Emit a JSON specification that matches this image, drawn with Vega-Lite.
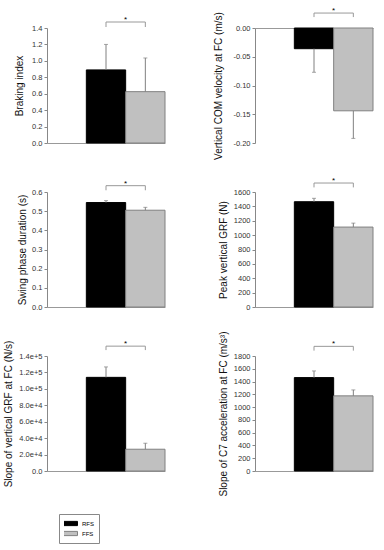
{
"$schema": "https://vega.github.io/schema/vega-lite/v6.json",
"padding": {"left": 3, "top": 7, "right": 5, "bottom": 5},
"datasets": {
 "bars": [
  {"panel": "p1", "group": "RFS", "mean": 0.89, "err": 1.2},
  {"panel": "p1", "group": "FFS", "mean": 0.625, "err": 1.035},
  {"panel": "p2", "group": "RFS", "mean": -0.036, "err": -0.077},
  {"panel": "p2", "group": "FFS", "mean": -0.144, "err": -0.192},
  {"panel": "p3", "group": "RFS", "mean": 0.545, "err": 0.555},
  {"panel": "p3", "group": "FFS", "mean": 0.505, "err": 0.52},
  {"panel": "p4", "group": "RFS", "mean": 1465, "err": 1512},
  {"panel": "p4", "group": "FFS", "mean": 1112, "err": 1167},
  {"panel": "p5", "group": "RFS", "mean": 114000, "err": 126700},
  {"panel": "p5", "group": "FFS", "mean": 26500, "err": 33800},
  {"panel": "p6", "group": "RFS", "mean": 1462, "err": 1566},
  {"panel": "p6", "group": "FFS", "mean": 1176, "err": 1269}
 ],
 "sig": [
  {"panel": "p1", "level": 1.473, "tip": 1.412},
  {"panel": "p2", "level": 0.026, "tip": 0.019},
  {"panel": "p3", "level": 0.633, "tip": 0.609},
  {"panel": "p4", "level": 1725, "tip": 1664},
  {"panel": "p5", "level": 152000, "tip": 147200},
  {"panel": "p6", "level": 1951, "tip": 1884}
 ]
},
"columns": 2,
"spacing": {"row": 49, "column": 90},
"bounds": "flush",
"concat": [
 {"width": 118, "height": 115,
  "layer": [
   {"data": {"name": "bars"}, "transform": [{"filter": "datum.panel == 'p1'"}],
    "layer": [
     {"mark": {"type": "bar", "strokeWidth": 1},
      "encoding": {
       "x": {"field": "group", "type": "nominal", "scale": {"type": "band", "domain": ["none", "RFS", "FFS"], "paddingInner": 0, "paddingOuter": 0}, "axis": {"title": null, "labels": false, "ticks": false, "domainColor": "#999", "orient": "bottom"}},
       "y": {"field": "mean", "type": "quantitative", "scale": {"domain": [0, 1.4]}, "axis": {"title": "Braking index", "values": [0, 0.2, 0.4, 0.6, 0.8, 1.0, 1.2, 1.4], "format": ".1f", "titlePadding": 7}},
       "fill": {"field": "group", "type": "nominal", "scale": {"domain": ["RFS", "FFS"], "range": ["#000000", "#c0c0c0"]},
        "legend": {"title": null, "orient": "none", "legendX": 12, "legendY": 486, "symbolType": "M-2,-0.5H2V0.5H-2Z", "symbolSize": 72, "symbolStrokeColor": "#808080", "symbolStrokeWidth": 1, "labelFontSize": 6, "labelFont": "Liberation Sans", "labelColor": "#000", "labelOffset": 8, "strokeColor": "#888", "padding": 5, "rowPadding": 1, "clipHeight": 9}},
       "stroke": {"field": "group", "type": "nominal", "scale": {"domain": ["RFS", "FFS"], "range": ["#000000", "#808080"]}, "legend": null}
      }},
     {"mark": {"type": "rule", "color": "#808080"},
      "encoding": {
       "x": {"field": "group", "type": "nominal", "scale": {"type": "band", "domain": ["none", "RFS", "FFS"], "paddingInner": 0, "paddingOuter": 0}, "axis": {"title": null, "labels": false, "ticks": false, "domainColor": "#999", "orient": "bottom"}},
       "y": {"field": "mean", "type": "quantitative", "scale": {"domain": [0, 1.4]}, "axis": {"title": "Braking index", "values": [0, 0.2, 0.4, 0.6, 0.8, 1.0, 1.2, 1.4], "format": ".1f", "titlePadding": 7}},
       "y2": {"field": "err"}}},
     {"mark": {"type": "tick", "color": "#808080", "thickness": 1, "size": 4},
      "encoding": {
       "x": {"field": "group", "type": "nominal", "scale": {"type": "band", "domain": ["none", "RFS", "FFS"], "paddingInner": 0, "paddingOuter": 0}, "axis": {"title": null, "labels": false, "ticks": false, "domainColor": "#999", "orient": "bottom"}},
       "y": {"field": "err", "type": "quantitative", "scale": {"domain": [0, 1.4]}, "axis": {"title": "Braking index", "values": [0, 0.2, 0.4, 0.6, 0.8, 1.0, 1.2, 1.4], "format": ".1f", "titlePadding": 7}}}}
    ]},
   {"data": {"name": "sig"}, "transform": [{"filter": "datum.panel == 'p1'"}],
    "layer": [
     {"mark": {"type": "rule", "color": "#999"},
      "encoding": {
       "x": {"datum": "RFS", "type": "nominal", "scale": {"type": "band", "domain": ["none", "RFS", "FFS"], "paddingInner": 0, "paddingOuter": 0}, "axis": {"title": null, "labels": false, "ticks": false, "domainColor": "#999", "orient": "bottom"}},
       "x2": {"datum": "FFS"},
       "y": {"field": "level", "type": "quantitative", "scale": {"domain": [0, 1.4]}, "axis": {"title": "Braking index", "values": [0, 0.2, 0.4, 0.6, 0.8, 1.0, 1.2, 1.4], "format": ".1f", "titlePadding": 7}}}},
     {"mark": {"type": "rule", "color": "#999"},
      "encoding": {
       "x": {"datum": "RFS", "type": "nominal", "scale": {"type": "band", "domain": ["none", "RFS", "FFS"], "paddingInner": 0, "paddingOuter": 0}, "axis": {"title": null, "labels": false, "ticks": false, "domainColor": "#999", "orient": "bottom"}},
       "y": {"field": "level", "type": "quantitative", "scale": {"domain": [0, 1.4]}, "axis": {"title": "Braking index", "values": [0, 0.2, 0.4, 0.6, 0.8, 1.0, 1.2, 1.4], "format": ".1f", "titlePadding": 7}},
       "y2": {"field": "tip"}}},
     {"mark": {"type": "rule", "color": "#999"},
      "encoding": {
       "x": {"datum": "FFS", "type": "nominal", "scale": {"type": "band", "domain": ["none", "RFS", "FFS"], "paddingInner": 0, "paddingOuter": 0}, "axis": {"title": null, "labels": false, "ticks": false, "domainColor": "#999", "orient": "bottom"}},
       "y": {"field": "level", "type": "quantitative", "scale": {"domain": [0, 1.4]}, "axis": {"title": "Braking index", "values": [0, 0.2, 0.4, 0.6, 0.8, 1.0, 1.2, 1.4], "format": ".1f", "titlePadding": 7}},
       "y2": {"field": "tip"}}},
     {"mark": {"type": "text", "text": "*", "fontSize": 8, "baseline": "alphabetic", "font": "Liberation Sans"},
      "encoding": {
       "x": {"datum": "FFS", "type": "nominal", "bandPosition": 0, "scale": {"type": "band", "domain": ["none", "RFS", "FFS"], "paddingInner": 0, "paddingOuter": 0}, "axis": {"title": null, "labels": false, "ticks": false, "domainColor": "#999", "orient": "bottom"}},
       "y": {"field": "level", "type": "quantitative", "scale": {"domain": [0, 1.4]}, "axis": {"title": "Braking index", "values": [0, 0.2, 0.4, 0.6, 0.8, 1.0, 1.2, 1.4], "format": ".1f", "titlePadding": 7}}}}
    ]}
  ]},
 {"width": 118, "height": 115,
  "layer": [
   {"data": {"name": "bars"}, "transform": [{"filter": "datum.panel == 'p2'"}],
    "layer": [
     {"mark": {"type": "bar", "strokeWidth": 1},
      "encoding": {
       "x": {"field": "group", "type": "nominal", "scale": {"type": "band", "domain": ["none", "RFS", "FFS"], "paddingInner": 0, "paddingOuter": 0}, "axis": {"title": null, "labels": false, "ticks": false, "domainColor": "#999", "orient": "top"}},
       "y": {"field": "mean", "type": "quantitative", "scale": {"domain": [-0.2, 0]}, "axis": {"title": "Vertical COM velocity at FC (m/s)", "values": [-0.2, -0.15, -0.1, -0.05, 0], "labelExpr": "datum.value < 0 ? '-' + format(-datum.value, '.2f') : format(datum.value, '.2f')", "titlePadding": 9}},
       "fill": {"field": "group", "type": "nominal", "scale": {"domain": ["RFS", "FFS"], "range": ["#000000", "#c0c0c0"]}},
       "stroke": {"field": "group", "type": "nominal", "scale": {"domain": ["RFS", "FFS"], "range": ["#000000", "#808080"]}, "legend": null}
      }},
     {"mark": {"type": "rule", "color": "#808080"},
      "encoding": {
       "x": {"field": "group", "type": "nominal", "scale": {"type": "band", "domain": ["none", "RFS", "FFS"], "paddingInner": 0, "paddingOuter": 0}, "axis": {"title": null, "labels": false, "ticks": false, "domainColor": "#999", "orient": "top"}},
       "y": {"field": "mean", "type": "quantitative", "scale": {"domain": [-0.2, 0]}, "axis": {"title": "Vertical COM velocity at FC (m/s)", "values": [-0.2, -0.15, -0.1, -0.05, 0], "labelExpr": "datum.value < 0 ? '-' + format(-datum.value, '.2f') : format(datum.value, '.2f')", "titlePadding": 9}},
       "y2": {"field": "err"}}},
     {"mark": {"type": "tick", "color": "#808080", "thickness": 1, "size": 4},
      "encoding": {
       "x": {"field": "group", "type": "nominal", "scale": {"type": "band", "domain": ["none", "RFS", "FFS"], "paddingInner": 0, "paddingOuter": 0}, "axis": {"title": null, "labels": false, "ticks": false, "domainColor": "#999", "orient": "top"}},
       "y": {"field": "err", "type": "quantitative", "scale": {"domain": [-0.2, 0]}, "axis": {"title": "Vertical COM velocity at FC (m/s)", "values": [-0.2, -0.15, -0.1, -0.05, 0], "labelExpr": "datum.value < 0 ? '-' + format(-datum.value, '.2f') : format(datum.value, '.2f')", "titlePadding": 9}}}}
    ]},
   {"data": {"name": "sig"}, "transform": [{"filter": "datum.panel == 'p2'"}],
    "layer": [
     {"mark": {"type": "rule", "color": "#999"},
      "encoding": {
       "x": {"datum": "RFS", "type": "nominal", "scale": {"type": "band", "domain": ["none", "RFS", "FFS"], "paddingInner": 0, "paddingOuter": 0}, "axis": {"title": null, "labels": false, "ticks": false, "domainColor": "#999", "orient": "top"}},
       "x2": {"datum": "FFS"},
       "y": {"field": "level", "type": "quantitative", "scale": {"domain": [-0.2, 0]}, "axis": {"title": "Vertical COM velocity at FC (m/s)", "values": [-0.2, -0.15, -0.1, -0.05, 0], "labelExpr": "datum.value < 0 ? '-' + format(-datum.value, '.2f') : format(datum.value, '.2f')", "titlePadding": 9}}}},
     {"mark": {"type": "rule", "color": "#999"},
      "encoding": {
       "x": {"datum": "RFS", "type": "nominal", "scale": {"type": "band", "domain": ["none", "RFS", "FFS"], "paddingInner": 0, "paddingOuter": 0}, "axis": {"title": null, "labels": false, "ticks": false, "domainColor": "#999", "orient": "top"}},
       "y": {"field": "level", "type": "quantitative", "scale": {"domain": [-0.2, 0]}, "axis": {"title": "Vertical COM velocity at FC (m/s)", "values": [-0.2, -0.15, -0.1, -0.05, 0], "labelExpr": "datum.value < 0 ? '-' + format(-datum.value, '.2f') : format(datum.value, '.2f')", "titlePadding": 9}},
       "y2": {"field": "tip"}}},
     {"mark": {"type": "rule", "color": "#999"},
      "encoding": {
       "x": {"datum": "FFS", "type": "nominal", "scale": {"type": "band", "domain": ["none", "RFS", "FFS"], "paddingInner": 0, "paddingOuter": 0}, "axis": {"title": null, "labels": false, "ticks": false, "domainColor": "#999", "orient": "top"}},
       "y": {"field": "level", "type": "quantitative", "scale": {"domain": [-0.2, 0]}, "axis": {"title": "Vertical COM velocity at FC (m/s)", "values": [-0.2, -0.15, -0.1, -0.05, 0], "labelExpr": "datum.value < 0 ? '-' + format(-datum.value, '.2f') : format(datum.value, '.2f')", "titlePadding": 9}},
       "y2": {"field": "tip"}}},
     {"mark": {"type": "text", "text": "*", "fontSize": 8, "baseline": "alphabetic", "font": "Liberation Sans"},
      "encoding": {
       "x": {"datum": "FFS", "type": "nominal", "bandPosition": 0, "scale": {"type": "band", "domain": ["none", "RFS", "FFS"], "paddingInner": 0, "paddingOuter": 0}, "axis": {"title": null, "labels": false, "ticks": false, "domainColor": "#999", "orient": "top"}},
       "y": {"field": "level", "type": "quantitative", "scale": {"domain": [-0.2, 0]}, "axis": {"title": "Vertical COM velocity at FC (m/s)", "values": [-0.2, -0.15, -0.1, -0.05, 0], "labelExpr": "datum.value < 0 ? '-' + format(-datum.value, '.2f') : format(datum.value, '.2f')", "titlePadding": 9}}}}
    ]}
  ]},
 {"width": 118, "height": 115,
  "layer": [
   {"data": {"name": "bars"}, "transform": [{"filter": "datum.panel == 'p3'"}],
    "layer": [
     {"mark": {"type": "bar", "strokeWidth": 1},
      "encoding": {
       "x": {"field": "group", "type": "nominal", "scale": {"type": "band", "domain": ["none", "RFS", "FFS"], "paddingInner": 0, "paddingOuter": 0}, "axis": {"title": null, "labels": false, "ticks": false, "domainColor": "#999", "orient": "bottom"}},
       "y": {"field": "mean", "type": "quantitative", "scale": {"domain": [0, 0.6]}, "axis": {"title": "Swing phase duration (s)", "values": [0, 0.1, 0.2, 0.3, 0.4, 0.5, 0.6], "format": ".1f", "titlePadding": 4}},
       "fill": {"field": "group", "type": "nominal", "scale": {"domain": ["RFS", "FFS"], "range": ["#000000", "#c0c0c0"]}},
       "stroke": {"field": "group", "type": "nominal", "scale": {"domain": ["RFS", "FFS"], "range": ["#000000", "#808080"]}, "legend": null}
      }},
     {"mark": {"type": "rule", "color": "#808080"},
      "encoding": {
       "x": {"field": "group", "type": "nominal", "scale": {"type": "band", "domain": ["none", "RFS", "FFS"], "paddingInner": 0, "paddingOuter": 0}, "axis": {"title": null, "labels": false, "ticks": false, "domainColor": "#999", "orient": "bottom"}},
       "y": {"field": "mean", "type": "quantitative", "scale": {"domain": [0, 0.6]}, "axis": {"title": "Swing phase duration (s)", "values": [0, 0.1, 0.2, 0.3, 0.4, 0.5, 0.6], "format": ".1f", "titlePadding": 4}},
       "y2": {"field": "err"}}},
     {"mark": {"type": "tick", "color": "#808080", "thickness": 1, "size": 4},
      "encoding": {
       "x": {"field": "group", "type": "nominal", "scale": {"type": "band", "domain": ["none", "RFS", "FFS"], "paddingInner": 0, "paddingOuter": 0}, "axis": {"title": null, "labels": false, "ticks": false, "domainColor": "#999", "orient": "bottom"}},
       "y": {"field": "err", "type": "quantitative", "scale": {"domain": [0, 0.6]}, "axis": {"title": "Swing phase duration (s)", "values": [0, 0.1, 0.2, 0.3, 0.4, 0.5, 0.6], "format": ".1f", "titlePadding": 4}}}}
    ]},
   {"data": {"name": "sig"}, "transform": [{"filter": "datum.panel == 'p3'"}],
    "layer": [
     {"mark": {"type": "rule", "color": "#999"},
      "encoding": {
       "x": {"datum": "RFS", "type": "nominal", "scale": {"type": "band", "domain": ["none", "RFS", "FFS"], "paddingInner": 0, "paddingOuter": 0}, "axis": {"title": null, "labels": false, "ticks": false, "domainColor": "#999", "orient": "bottom"}},
       "x2": {"datum": "FFS"},
       "y": {"field": "level", "type": "quantitative", "scale": {"domain": [0, 0.6]}, "axis": {"title": "Swing phase duration (s)", "values": [0, 0.1, 0.2, 0.3, 0.4, 0.5, 0.6], "format": ".1f", "titlePadding": 4}}}},
     {"mark": {"type": "rule", "color": "#999"},
      "encoding": {
       "x": {"datum": "RFS", "type": "nominal", "scale": {"type": "band", "domain": ["none", "RFS", "FFS"], "paddingInner": 0, "paddingOuter": 0}, "axis": {"title": null, "labels": false, "ticks": false, "domainColor": "#999", "orient": "bottom"}},
       "y": {"field": "level", "type": "quantitative", "scale": {"domain": [0, 0.6]}, "axis": {"title": "Swing phase duration (s)", "values": [0, 0.1, 0.2, 0.3, 0.4, 0.5, 0.6], "format": ".1f", "titlePadding": 4}},
       "y2": {"field": "tip"}}},
     {"mark": {"type": "rule", "color": "#999"},
      "encoding": {
       "x": {"datum": "FFS", "type": "nominal", "scale": {"type": "band", "domain": ["none", "RFS", "FFS"], "paddingInner": 0, "paddingOuter": 0}, "axis": {"title": null, "labels": false, "ticks": false, "domainColor": "#999", "orient": "bottom"}},
       "y": {"field": "level", "type": "quantitative", "scale": {"domain": [0, 0.6]}, "axis": {"title": "Swing phase duration (s)", "values": [0, 0.1, 0.2, 0.3, 0.4, 0.5, 0.6], "format": ".1f", "titlePadding": 4}},
       "y2": {"field": "tip"}}},
     {"mark": {"type": "text", "text": "*", "fontSize": 8, "baseline": "alphabetic", "font": "Liberation Sans"},
      "encoding": {
       "x": {"datum": "FFS", "type": "nominal", "bandPosition": 0, "scale": {"type": "band", "domain": ["none", "RFS", "FFS"], "paddingInner": 0, "paddingOuter": 0}, "axis": {"title": null, "labels": false, "ticks": false, "domainColor": "#999", "orient": "bottom"}},
       "y": {"field": "level", "type": "quantitative", "scale": {"domain": [0, 0.6]}, "axis": {"title": "Swing phase duration (s)", "values": [0, 0.1, 0.2, 0.3, 0.4, 0.5, 0.6], "format": ".1f", "titlePadding": 4}}}}
    ]}
  ]},
 {"width": 118, "height": 115,
  "layer": [
   {"data": {"name": "bars"}, "transform": [{"filter": "datum.panel == 'p4'"}],
    "layer": [
     {"mark": {"type": "bar", "strokeWidth": 1},
      "encoding": {
       "x": {"field": "group", "type": "nominal", "scale": {"type": "band", "domain": ["none", "RFS", "FFS"], "paddingInner": 0, "paddingOuter": 0}, "axis": {"title": null, "labels": false, "ticks": false, "domainColor": "#999", "orient": "bottom"}},
       "y": {"field": "mean", "type": "quantitative", "scale": {"domain": [0, 1600]}, "axis": {"title": "Peak vertical GRF (N)", "values": [0, 200, 400, 600, 800, 1000, 1200, 1400, 1600], "format": "d", "titlePadding": 5}},
       "fill": {"field": "group", "type": "nominal", "scale": {"domain": ["RFS", "FFS"], "range": ["#000000", "#c0c0c0"]}},
       "stroke": {"field": "group", "type": "nominal", "scale": {"domain": ["RFS", "FFS"], "range": ["#000000", "#808080"]}, "legend": null}
      }},
     {"mark": {"type": "rule", "color": "#808080"},
      "encoding": {
       "x": {"field": "group", "type": "nominal", "scale": {"type": "band", "domain": ["none", "RFS", "FFS"], "paddingInner": 0, "paddingOuter": 0}, "axis": {"title": null, "labels": false, "ticks": false, "domainColor": "#999", "orient": "bottom"}},
       "y": {"field": "mean", "type": "quantitative", "scale": {"domain": [0, 1600]}, "axis": {"title": "Peak vertical GRF (N)", "values": [0, 200, 400, 600, 800, 1000, 1200, 1400, 1600], "format": "d", "titlePadding": 5}},
       "y2": {"field": "err"}}},
     {"mark": {"type": "tick", "color": "#808080", "thickness": 1, "size": 4},
      "encoding": {
       "x": {"field": "group", "type": "nominal", "scale": {"type": "band", "domain": ["none", "RFS", "FFS"], "paddingInner": 0, "paddingOuter": 0}, "axis": {"title": null, "labels": false, "ticks": false, "domainColor": "#999", "orient": "bottom"}},
       "y": {"field": "err", "type": "quantitative", "scale": {"domain": [0, 1600]}, "axis": {"title": "Peak vertical GRF (N)", "values": [0, 200, 400, 600, 800, 1000, 1200, 1400, 1600], "format": "d", "titlePadding": 5}}}}
    ]},
   {"data": {"name": "sig"}, "transform": [{"filter": "datum.panel == 'p4'"}],
    "layer": [
     {"mark": {"type": "rule", "color": "#999"},
      "encoding": {
       "x": {"datum": "RFS", "type": "nominal", "scale": {"type": "band", "domain": ["none", "RFS", "FFS"], "paddingInner": 0, "paddingOuter": 0}, "axis": {"title": null, "labels": false, "ticks": false, "domainColor": "#999", "orient": "bottom"}},
       "x2": {"datum": "FFS"},
       "y": {"field": "level", "type": "quantitative", "scale": {"domain": [0, 1600]}, "axis": {"title": "Peak vertical GRF (N)", "values": [0, 200, 400, 600, 800, 1000, 1200, 1400, 1600], "format": "d", "titlePadding": 5}}}},
     {"mark": {"type": "rule", "color": "#999"},
      "encoding": {
       "x": {"datum": "RFS", "type": "nominal", "scale": {"type": "band", "domain": ["none", "RFS", "FFS"], "paddingInner": 0, "paddingOuter": 0}, "axis": {"title": null, "labels": false, "ticks": false, "domainColor": "#999", "orient": "bottom"}},
       "y": {"field": "level", "type": "quantitative", "scale": {"domain": [0, 1600]}, "axis": {"title": "Peak vertical GRF (N)", "values": [0, 200, 400, 600, 800, 1000, 1200, 1400, 1600], "format": "d", "titlePadding": 5}},
       "y2": {"field": "tip"}}},
     {"mark": {"type": "rule", "color": "#999"},
      "encoding": {
       "x": {"datum": "FFS", "type": "nominal", "scale": {"type": "band", "domain": ["none", "RFS", "FFS"], "paddingInner": 0, "paddingOuter": 0}, "axis": {"title": null, "labels": false, "ticks": false, "domainColor": "#999", "orient": "bottom"}},
       "y": {"field": "level", "type": "quantitative", "scale": {"domain": [0, 1600]}, "axis": {"title": "Peak vertical GRF (N)", "values": [0, 200, 400, 600, 800, 1000, 1200, 1400, 1600], "format": "d", "titlePadding": 5}},
       "y2": {"field": "tip"}}},
     {"mark": {"type": "text", "text": "*", "fontSize": 8, "baseline": "alphabetic", "font": "Liberation Sans"},
      "encoding": {
       "x": {"datum": "FFS", "type": "nominal", "bandPosition": 0, "scale": {"type": "band", "domain": ["none", "RFS", "FFS"], "paddingInner": 0, "paddingOuter": 0}, "axis": {"title": null, "labels": false, "ticks": false, "domainColor": "#999", "orient": "bottom"}},
       "y": {"field": "level", "type": "quantitative", "scale": {"domain": [0, 1600]}, "axis": {"title": "Peak vertical GRF (N)", "values": [0, 200, 400, 600, 800, 1000, 1200, 1400, 1600], "format": "d", "titlePadding": 5}}}}
    ]}
  ]},
 {"width": 118, "height": 115,
  "layer": [
   {"data": {"name": "bars"}, "transform": [{"filter": "datum.panel == 'p5'"}],
    "layer": [
     {"mark": {"type": "bar", "strokeWidth": 1},
      "encoding": {
       "x": {"field": "group", "type": "nominal", "scale": {"type": "band", "domain": ["none", "RFS", "FFS"], "paddingInner": 0, "paddingOuter": 0}, "axis": {"title": null, "labels": false, "ticks": false, "domainColor": "#999", "orient": "bottom"}},
       "y": {"field": "mean", "type": "quantitative", "scale": {"domain": [0, 140000]}, "axis": {"title": "Slope of vertical GRF at FC (N/s)", "values": [0, 20000, 40000, 60000, 80000, 100000, 120000, 140000], "labelExpr": "datum.value == 0 ? '0.0' : format(datum.value, '.1e')", "titlePadding": 5}},
       "fill": {"field": "group", "type": "nominal", "scale": {"domain": ["RFS", "FFS"], "range": ["#000000", "#c0c0c0"]}},
       "stroke": {"field": "group", "type": "nominal", "scale": {"domain": ["RFS", "FFS"], "range": ["#000000", "#808080"]}, "legend": null}
      }},
     {"mark": {"type": "rule", "color": "#808080"},
      "encoding": {
       "x": {"field": "group", "type": "nominal", "scale": {"type": "band", "domain": ["none", "RFS", "FFS"], "paddingInner": 0, "paddingOuter": 0}, "axis": {"title": null, "labels": false, "ticks": false, "domainColor": "#999", "orient": "bottom"}},
       "y": {"field": "mean", "type": "quantitative", "scale": {"domain": [0, 140000]}, "axis": {"title": "Slope of vertical GRF at FC (N/s)", "values": [0, 20000, 40000, 60000, 80000, 100000, 120000, 140000], "labelExpr": "datum.value == 0 ? '0.0' : format(datum.value, '.1e')", "titlePadding": 5}},
       "y2": {"field": "err"}}},
     {"mark": {"type": "tick", "color": "#808080", "thickness": 1, "size": 4},
      "encoding": {
       "x": {"field": "group", "type": "nominal", "scale": {"type": "band", "domain": ["none", "RFS", "FFS"], "paddingInner": 0, "paddingOuter": 0}, "axis": {"title": null, "labels": false, "ticks": false, "domainColor": "#999", "orient": "bottom"}},
       "y": {"field": "err", "type": "quantitative", "scale": {"domain": [0, 140000]}, "axis": {"title": "Slope of vertical GRF at FC (N/s)", "values": [0, 20000, 40000, 60000, 80000, 100000, 120000, 140000], "labelExpr": "datum.value == 0 ? '0.0' : format(datum.value, '.1e')", "titlePadding": 5}}}}
    ]},
   {"data": {"name": "sig"}, "transform": [{"filter": "datum.panel == 'p5'"}],
    "layer": [
     {"mark": {"type": "rule", "color": "#999"},
      "encoding": {
       "x": {"datum": "RFS", "type": "nominal", "scale": {"type": "band", "domain": ["none", "RFS", "FFS"], "paddingInner": 0, "paddingOuter": 0}, "axis": {"title": null, "labels": false, "ticks": false, "domainColor": "#999", "orient": "bottom"}},
       "x2": {"datum": "FFS"},
       "y": {"field": "level", "type": "quantitative", "scale": {"domain": [0, 140000]}, "axis": {"title": "Slope of vertical GRF at FC (N/s)", "values": [0, 20000, 40000, 60000, 80000, 100000, 120000, 140000], "labelExpr": "datum.value == 0 ? '0.0' : format(datum.value, '.1e')", "titlePadding": 5}}}},
     {"mark": {"type": "rule", "color": "#999"},
      "encoding": {
       "x": {"datum": "RFS", "type": "nominal", "scale": {"type": "band", "domain": ["none", "RFS", "FFS"], "paddingInner": 0, "paddingOuter": 0}, "axis": {"title": null, "labels": false, "ticks": false, "domainColor": "#999", "orient": "bottom"}},
       "y": {"field": "level", "type": "quantitative", "scale": {"domain": [0, 140000]}, "axis": {"title": "Slope of vertical GRF at FC (N/s)", "values": [0, 20000, 40000, 60000, 80000, 100000, 120000, 140000], "labelExpr": "datum.value == 0 ? '0.0' : format(datum.value, '.1e')", "titlePadding": 5}},
       "y2": {"field": "tip"}}},
     {"mark": {"type": "rule", "color": "#999"},
      "encoding": {
       "x": {"datum": "FFS", "type": "nominal", "scale": {"type": "band", "domain": ["none", "RFS", "FFS"], "paddingInner": 0, "paddingOuter": 0}, "axis": {"title": null, "labels": false, "ticks": false, "domainColor": "#999", "orient": "bottom"}},
       "y": {"field": "level", "type": "quantitative", "scale": {"domain": [0, 140000]}, "axis": {"title": "Slope of vertical GRF at FC (N/s)", "values": [0, 20000, 40000, 60000, 80000, 100000, 120000, 140000], "labelExpr": "datum.value == 0 ? '0.0' : format(datum.value, '.1e')", "titlePadding": 5}},
       "y2": {"field": "tip"}}},
     {"mark": {"type": "text", "text": "*", "fontSize": 8, "baseline": "alphabetic", "font": "Liberation Sans"},
      "encoding": {
       "x": {"datum": "FFS", "type": "nominal", "bandPosition": 0, "scale": {"type": "band", "domain": ["none", "RFS", "FFS"], "paddingInner": 0, "paddingOuter": 0}, "axis": {"title": null, "labels": false, "ticks": false, "domainColor": "#999", "orient": "bottom"}},
       "y": {"field": "level", "type": "quantitative", "scale": {"domain": [0, 140000]}, "axis": {"title": "Slope of vertical GRF at FC (N/s)", "values": [0, 20000, 40000, 60000, 80000, 100000, 120000, 140000], "labelExpr": "datum.value == 0 ? '0.0' : format(datum.value, '.1e')", "titlePadding": 5}}}}
    ]}
  ]},
 {"width": 118, "height": 115,
  "layer": [
   {"data": {"name": "bars"}, "transform": [{"filter": "datum.panel == 'p6'"}],
    "layer": [
     {"mark": {"type": "bar", "strokeWidth": 1},
      "encoding": {
       "x": {"field": "group", "type": "nominal", "scale": {"type": "band", "domain": ["none", "RFS", "FFS"], "paddingInner": 0, "paddingOuter": 0}, "axis": {"title": null, "labels": false, "ticks": false, "domainColor": "#999", "orient": "bottom"}},
       "y": {"field": "mean", "type": "quantitative", "scale": {"domain": [0, 1800]}, "axis": {"title": "Slope of C7 acceleration at FC (m/s³)", "values": [0, 200, 400, 600, 800, 1000, 1200, 1400, 1600, 1800], "format": "d", "titlePadding": 5}},
       "fill": {"field": "group", "type": "nominal", "scale": {"domain": ["RFS", "FFS"], "range": ["#000000", "#c0c0c0"]}},
       "stroke": {"field": "group", "type": "nominal", "scale": {"domain": ["RFS", "FFS"], "range": ["#000000", "#808080"]}, "legend": null}
      }},
     {"mark": {"type": "rule", "color": "#808080"},
      "encoding": {
       "x": {"field": "group", "type": "nominal", "scale": {"type": "band", "domain": ["none", "RFS", "FFS"], "paddingInner": 0, "paddingOuter": 0}, "axis": {"title": null, "labels": false, "ticks": false, "domainColor": "#999", "orient": "bottom"}},
       "y": {"field": "mean", "type": "quantitative", "scale": {"domain": [0, 1800]}, "axis": {"title": "Slope of C7 acceleration at FC (m/s³)", "values": [0, 200, 400, 600, 800, 1000, 1200, 1400, 1600, 1800], "format": "d", "titlePadding": 5}},
       "y2": {"field": "err"}}},
     {"mark": {"type": "tick", "color": "#808080", "thickness": 1, "size": 4},
      "encoding": {
       "x": {"field": "group", "type": "nominal", "scale": {"type": "band", "domain": ["none", "RFS", "FFS"], "paddingInner": 0, "paddingOuter": 0}, "axis": {"title": null, "labels": false, "ticks": false, "domainColor": "#999", "orient": "bottom"}},
       "y": {"field": "err", "type": "quantitative", "scale": {"domain": [0, 1800]}, "axis": {"title": "Slope of C7 acceleration at FC (m/s³)", "values": [0, 200, 400, 600, 800, 1000, 1200, 1400, 1600, 1800], "format": "d", "titlePadding": 5}}}}
    ]},
   {"data": {"name": "sig"}, "transform": [{"filter": "datum.panel == 'p6'"}],
    "layer": [
     {"mark": {"type": "rule", "color": "#999"},
      "encoding": {
       "x": {"datum": "RFS", "type": "nominal", "scale": {"type": "band", "domain": ["none", "RFS", "FFS"], "paddingInner": 0, "paddingOuter": 0}, "axis": {"title": null, "labels": false, "ticks": false, "domainColor": "#999", "orient": "bottom"}},
       "x2": {"datum": "FFS"},
       "y": {"field": "level", "type": "quantitative", "scale": {"domain": [0, 1800]}, "axis": {"title": "Slope of C7 acceleration at FC (m/s³)", "values": [0, 200, 400, 600, 800, 1000, 1200, 1400, 1600, 1800], "format": "d", "titlePadding": 5}}}},
     {"mark": {"type": "rule", "color": "#999"},
      "encoding": {
       "x": {"datum": "RFS", "type": "nominal", "scale": {"type": "band", "domain": ["none", "RFS", "FFS"], "paddingInner": 0, "paddingOuter": 0}, "axis": {"title": null, "labels": false, "ticks": false, "domainColor": "#999", "orient": "bottom"}},
       "y": {"field": "level", "type": "quantitative", "scale": {"domain": [0, 1800]}, "axis": {"title": "Slope of C7 acceleration at FC (m/s³)", "values": [0, 200, 400, 600, 800, 1000, 1200, 1400, 1600, 1800], "format": "d", "titlePadding": 5}},
       "y2": {"field": "tip"}}},
     {"mark": {"type": "rule", "color": "#999"},
      "encoding": {
       "x": {"datum": "FFS", "type": "nominal", "scale": {"type": "band", "domain": ["none", "RFS", "FFS"], "paddingInner": 0, "paddingOuter": 0}, "axis": {"title": null, "labels": false, "ticks": false, "domainColor": "#999", "orient": "bottom"}},
       "y": {"field": "level", "type": "quantitative", "scale": {"domain": [0, 1800]}, "axis": {"title": "Slope of C7 acceleration at FC (m/s³)", "values": [0, 200, 400, 600, 800, 1000, 1200, 1400, 1600, 1800], "format": "d", "titlePadding": 5}},
       "y2": {"field": "tip"}}},
     {"mark": {"type": "text", "text": "*", "fontSize": 8, "baseline": "alphabetic", "font": "Liberation Sans"},
      "encoding": {
       "x": {"datum": "FFS", "type": "nominal", "bandPosition": 0, "scale": {"type": "band", "domain": ["none", "RFS", "FFS"], "paddingInner": 0, "paddingOuter": 0}, "axis": {"title": null, "labels": false, "ticks": false, "domainColor": "#999", "orient": "bottom"}},
       "y": {"field": "level", "type": "quantitative", "scale": {"domain": [0, 1800]}, "axis": {"title": "Slope of C7 acceleration at FC (m/s³)", "values": [0, 200, 400, 600, 800, 1000, 1200, 1400, 1600, 1800], "format": "d", "titlePadding": 5}}}}
    ]}
  ]}
],
"config": {
 "font": "Liberation Sans",
 "view": {"stroke": null},
 "axis": {"grid": false, "domainColor": "#888", "tickColor": "#888", "tickSize": 3, "labelColor": "#333", "labelFont": "Liberation Sans", "labelFontSize": 7.5, "labelPadding": 2, "titleFont": "Liberation Sans", "titleFontSize": 10, "titleFontWeight": "normal", "titleColor": "#111"}
}
}
